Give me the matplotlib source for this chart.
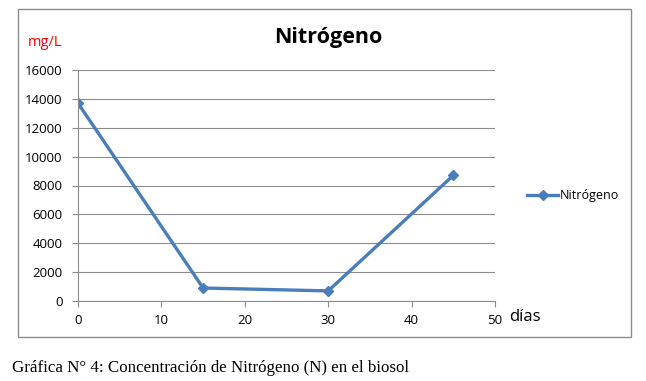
import matplotlib.pyplot as plt
from matplotlib.patches import Rectangle

dias = [0, 15, 30, 45]
nitrogeno = [13700, 900, 700, 8700]
xticks = [0, 10, 20, 30, 40, 50]
yticks = [0, 2000, 4000, 6000, 8000, 10000, 12000, 14000, 16000]

plt.rcParams['font.family'] = ['Open Sans', 'DejaVu Sans']

fig = plt.figure(figsize=(6.46, 3.81), dpi=100)
ax = fig.add_axes([78/646, 1-301/381, (495-78)/646, (301-70)/381])

# recuadro del grafico
fig.patches.append(Rectangle((18/646, 1-337/381), (631-18)/646, (337-9)/381,
                             transform=fig.transFigure, fill=False,
                             edgecolor='#8c8c8c', linewidth=1))

azul = '#4a7ebb'
ax.plot(dias, nitrogeno, color=azul, linewidth=2.4, marker='D', markersize=5.5,
        label='Nitrógeno')

ax.set_xlim(0, 50)
ax.set_ylim(0, 16000)
ax.set_xticks(xticks)
ax.set_yticks(yticks)
ax.tick_params(labelsize=9.5, colors='#8c8c8c', labelcolor='black', length=4, pad=5)
ax.tick_params(axis='y', pad=7)
ax.grid(axis='y', color='#8c8c8c', linewidth=0.8)
ax.set_axisbelow(True)
for s in ['top', 'right']:
    ax.spines[s].set_visible(False)
for s in ['left', 'bottom']:
    ax.spines[s].set_color('#8c8c8c')

fig.text(328/646, 1-38/381, 'Nitrógeno', ha='center', va='center',
         fontsize=15.5, fontweight='bold')
fig.text(28/646, 1-42/381, 'mg/L', ha='left', va='center', fontsize=10.5, color='red')
fig.text(509/646, 1-317/381, 'días', ha='left', va='center', fontsize=12)

ax.legend(loc='center left', bbox_to_anchor=(1.05, 0.455), frameon=False,
          fontsize=9, handlelength=2.5, handletextpad=0.1)

fig.text(12/646, 1-368/381, 'Gráfica N° 4: Concentración de Nitrógeno (N) en el biosol',
         ha='left', va='center', fontsize=12.2, family='Liberation Serif')

fig.savefig('out.png', dpi=100)
